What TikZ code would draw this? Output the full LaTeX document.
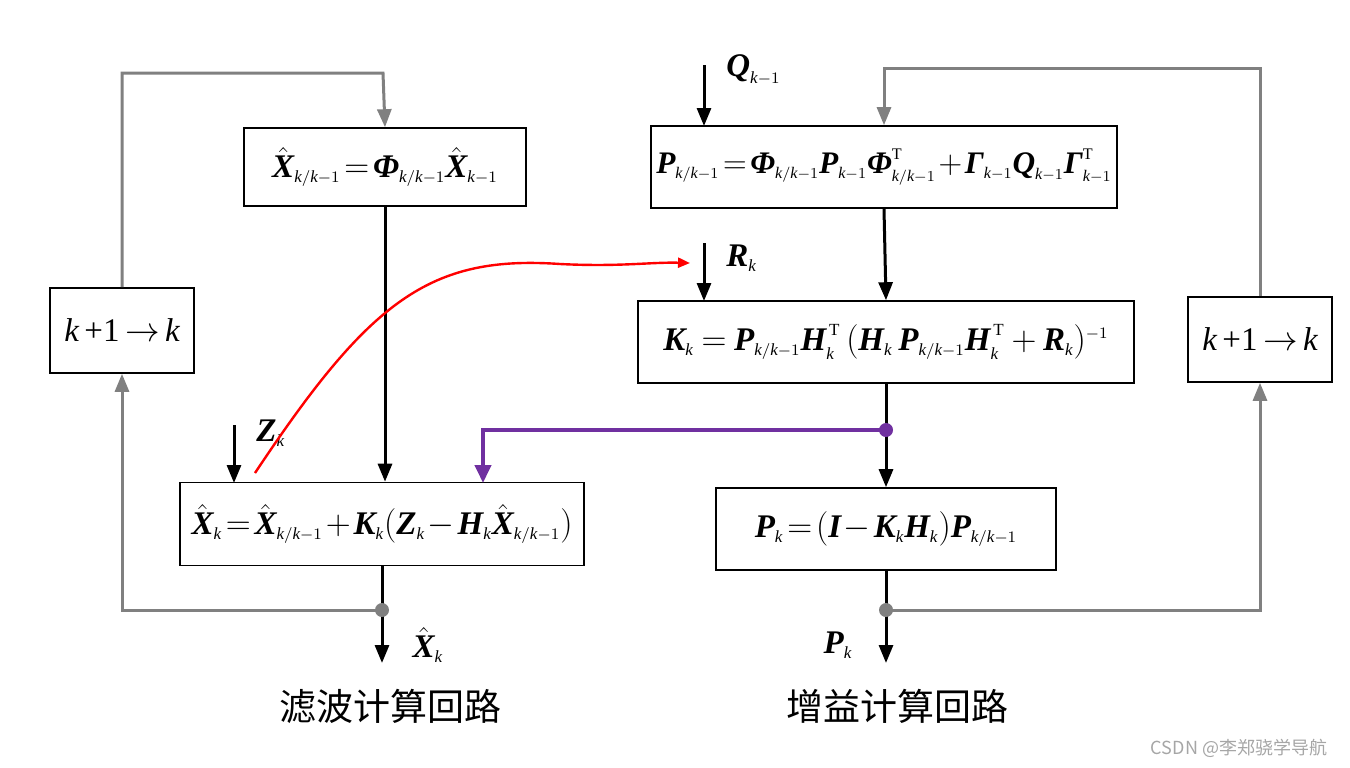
\documentclass[tikz,border=0pt]{standalone}
\usepackage{amsmath}
\usepackage{graphicx}
\usepackage{fontspec}
\setmainfont{Liberation Serif}
\newfontfamily\cjk{Noto Sans CJK SC}
\usetikzlibrary{arrows.meta}
\DeclareMathSizes{16.5}{16.5}{8.5}{6.5}
\newcommand{\B}[1]{\text{\bfseries\itshape #1}}
\newcommand{\I}[1]{\text{\itshape #1}}
\newcommand{\Xh}{\hat{\B{X}}}
\newcommand{\kk}{\I{k}/\I{k}-1}
\newcommand{\km}{\I{k}-1}
\newcommand{\Tr}{\mathrm{T}}
\newcommand{\tight}{\thickmuskip=2mu\medmuskip=1.5mu}
\definecolor{lgray}{RGB}{128,128,128}
\definecolor{lpurple}{RGB}{112,48,160}
\tikzset{
  box/.style={draw, line width=0.8pt, inner sep=0pt, font=\fontsize{16.5}{20}\selectfont\tight},
  flow/.style={line width=1.5pt, -{Triangle[length=9pt,width=7pt]}},
  gflow/.style={line width=1.5pt, draw=lgray, -{Triangle[length=9pt,width=7pt]}},
  lab/.style={font=\fontsize{16.5}{20}\selectfont, inner sep=0pt},
  cn/.style={font=\cjk\fontsize{18.5}{22}\selectfont, inner sep=0pt},
  dot/.style={circle, inner sep=0pt, minimum size=7pt}
}
\begin{document}
\begin{tikzpicture}[x=0.5pt,y=-0.5pt]
\useasboundingbox (0,0) rectangle (1350,767);
% boxes
\node[box, minimum width=141pt, minimum height=39pt] (xp) at (385,167) {$\Xh_{\kk} = \B{Φ}_{\kk}\Xh_{\km}$};
\node[box, minimum width=233pt, minimum height=41pt] (pp) at (884,167) {\scalebox{0.95}{$\B{P}_{\kk} = \B{Φ}_{\kk}\B{P}_{\km}\B{Φ}^{\Tr}_{\kk} + \B{Γ}_{\km}\B{Q}_{\km}\B{Γ}^{\Tr}_{\km}$}};
\node[box, minimum width=248pt, minimum height=41pt] (kb) at (886,342) {$\B{K}_{\I{k}} \;=\; \B{P}_{\kk}\B{H}^{\,\Tr}_{\I{k}}\,(\B{H}_{\I{k}}\,\B{P}_{\kk}\B{H}^{\,\Tr}_{\I{k}} \;+\; \B{R}_{\I{k}})^{-1}$};
\node[box, minimum width=202pt, minimum height=41.5pt] (xk) at (382,524) {$\Xh_{\I{k}} = \Xh_{\kk} + \B{K}_{\I{k}}(\B{Z}_{\I{k}} - \B{H}_{\I{k}}\Xh_{\kk})$};
\node[box, minimum width=170pt, minimum height=41pt] (pk) at (886,529) {$\B{P}_{\I{k}} = (\B{I} - \B{K}_{\I{k}}\B{H}_{\I{k}})\B{P}_{\kk}$};
\node[box, minimum width=72pt, minimum height=42.5pt] (ls) at (122,330.5) {\itshape k\,\upshape+1\,$\rightarrow$\,\itshape k};
\node[box, minimum width=72pt, minimum height=42.5pt] (rs) at (1260,339.5) {\itshape k\,\upshape+1\,$\rightarrow$\,\itshape k};
% main black arrows
\draw[flow] (xp.south) -- (xk.north -| xp.south);
\draw[flow] (pp.south) -- (kb.north);
\draw[flow] (kb.south) -- (pk.north);
\coordinate (xo0) at (382,663);
\coordinate (po0) at (886,663);
\draw[flow] (xk.south) -- (xo0);
\draw[flow] (pk.south) -- (po0);
% inputs
\coordinate (q0) at (704,65); \coordinate (q1) at (704,126);
\draw[flow] (q0) -- (q1);
\node[lab, anchor=west] (ql) at (726,70) {$\B{Q}_{\km}$};
\coordinate (r0) at (704,243); \coordinate (r1) at (704,301);
\draw[flow] (r0) -- (r1);
\node[lab, anchor=west] (rl) at (726,258) {$\B{R}_{\I{k}}$};
\coordinate (z0) at (234,425); \coordinate (z1) at (234,483);
\draw[flow] (z0) -- (z1);
\node[lab, anchor=west] (zl) at (256,433) {$\B{Z}_{\I{k}}$};
% outputs
\node[lab] (xo) at (428,645) {$\Xh_{\I{k}}$};
\node[lab] (po) at (838,645) {$\B{P}_{\I{k}}$};
% gray loops
\node[dot, fill=lgray] (gd1) at (382,610) {};
\node[dot, fill=lgray] (gd2) at (886,610) {};
\draw[gflow] (gd1.center) -- (122,610) -- (ls.south);
\draw[gflow] (ls.north) -- (122,73) -- (383,73) -- (xp.north);
\draw[gflow] (gd2.center) -- (1260,610) -- (rs.south);
\draw[gflow] (rs.north) -- (1260,68) -- (884,68) -- (pp.north);
% purple
\node[dot, fill=lpurple] (pd) at (886,430) {};
\draw[line width=2pt, draw=lpurple, -{Triangle[length=9pt,width=8pt,fill=lpurple]}] (pd.center) -- (483,430) -- (483,483);
% red curve
\coordinate (rc0) at (255,473);
\coordinate (rc1) at (690,263);
\draw[red, line width=1.2pt, -{Triangle[length=6pt,width=5pt]}] (rc0) .. controls (370,300) and (430,255) .. (560,264) .. controls (620,267) and (650,262) .. (rc1);
% chinese labels
\node[cn] (c1) at (390,706) {滤波计算回路};
\node[cn] (c2) at (897,706) {增益计算回路};
\node[font=\cjk\fontsize{9}{11}\selectfont, text=gray!70, inner sep=0pt] (wm) at (1239,748) {CSDN @李郑骁学导航};
\end{tikzpicture}
\end{document}
